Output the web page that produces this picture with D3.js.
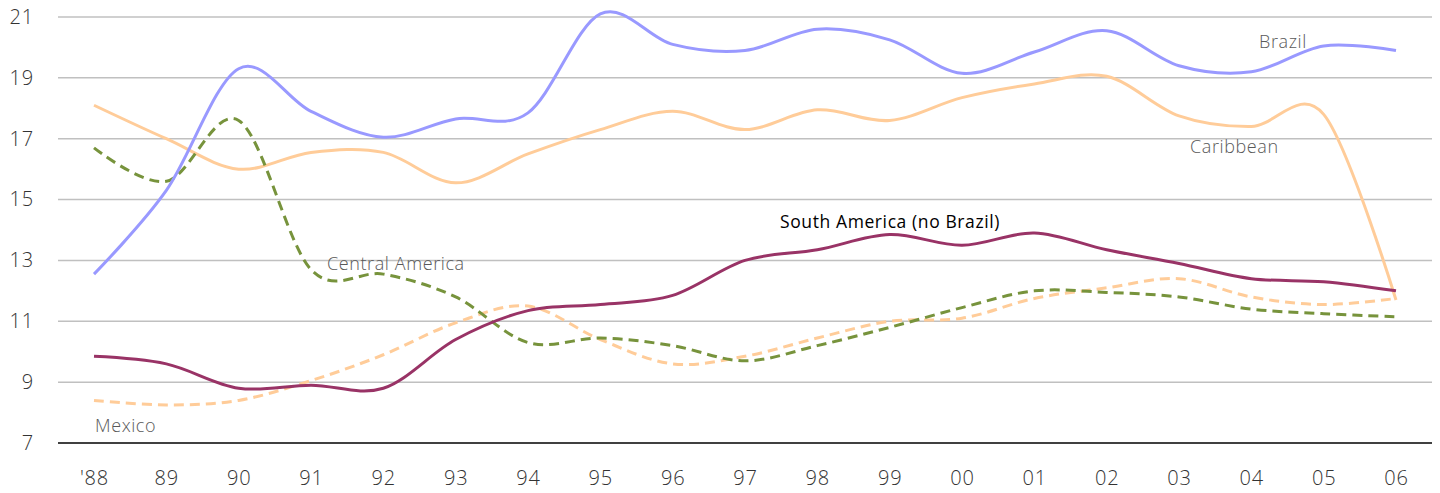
<!DOCTYPE html>
<html>
<head>
<meta charset="utf-8">
<script src="https://cdn.jsdelivr.net/npm/d3@7"></script>
<style>
  body { margin: 0; background: #fff; }
  svg text { font-family: "Open Sans", sans-serif; }
</style>
</head>
<body>
<svg id="chart" width="1440" height="493"></svg>
<script>
// categories (years)
var years = ["'88","89","90","91","92","93","94","95","96","97","98","99","00","01","02","03","04","05","06"];

// series values
var brazil = [12.55,15.3,19.3,17.9,17.05,17.65,17.85,21.1,20.1,19.9,20.6,20.25,19.15,19.85,20.55,19.4,19.2,20.05,19.9];
var caribbean = [18.1,17.0,16.0,16.55,16.55,15.55,16.5,17.3,17.9,17.3,17.95,17.6,18.35,18.8,19.05,17.75,17.4,17.8,11.7];
var centralAmerica = [16.7,15.6,17.6,12.7,12.55,11.8,10.3,10.45,10.2,9.7,10.2,10.8,11.45,12.0,11.95,11.8,11.4,11.25,11.15];
var mexico = [8.4,8.25,8.4,9.05,9.9,10.95,11.5,10.4,9.6,9.85,10.45,11.0,11.1,11.75,12.1,12.4,11.8,11.55,11.75];
var southAmerica = [9.85,9.6,8.8,8.9,8.8,10.4,11.35,11.55,11.85,13.0,13.35,13.85,13.5,13.9,13.35,12.9,12.4,12.3,12.0];

var yTicks = [7,9,11,13,15,17,19,21];

var svg = d3.select("#chart");

var x = d3.scalePoint().domain(years).range([94, 1396]);
var y = d3.scaleLinear().domain([7, 21]).range([443, 17]);

// gridlines
svg.append("g").selectAll("line")
  .data(yTicks.filter(function(d) { return d > 7; }))
  .enter().append("line")
  .attr("x1", 58).attr("x2", 1432)
  .attr("y1", function(d) { return y(d); })
  .attr("y2", function(d) { return y(d); })
  .attr("stroke", "#c0c0c0")
  .attr("stroke-width", 1.5);

// y axis labels
var yAxis = svg.append("g")
  .attr("transform", "translate(34,0)")
  .call(d3.axisLeft(y).tickValues(yTicks).tickSize(0).tickPadding(0).tickFormat(d3.format("d")));
yAxis.select(".domain").remove();
yAxis.selectAll("text")
  .attr("font-size", 20).attr("fill", "#333").attr("font-weight", 300)
  .attr("letter-spacing", 0.8)
  .attr("font-family", "'Open Sans', sans-serif");

// x axis
var xAxis = svg.append("g")
  .attr("transform", "translate(0,443)")
  .call(d3.axisBottom(x).tickSize(0).tickPadding(28));
xAxis.select(".domain").remove();
xAxis.selectAll("text")
  .attr("font-size", 20).attr("fill", "#333").attr("font-weight", 300)
  .attr("letter-spacing", 0.8)
  .attr("font-family", "'Open Sans', sans-serif");

// baseline at 7
svg.append("line")
  .attr("x1", 58).attr("x2", 1432)
  .attr("y1", y(7)).attr("y2", y(7))
  .attr("stroke", "#000").attr("stroke-width", 1.5);

var line = d3.line()
  .x(function(d, i) { return x(years[i]); })
  .y(function(d) { return y(d); })
  .curve(d3.curveCatmullRom.alpha(0));

var series = [
  { values: caribbean, color: "#ffcc99", dash: null },
  { values: mexico, color: "#ffcc99", dash: "10,6" },
  { values: centralAmerica, color: "#77933c", dash: "10,6" },
  { values: southAmerica, color: "#993366", dash: null },
  { values: brazil, color: "#9999ff", dash: null }
];

svg.append("g").selectAll("path")
  .data(series)
  .enter().append("path")
  .attr("d", function(d) { return line(d.values); })
  .attr("fill", "none")
  .attr("stroke", function(d) { return d.color; })
  .attr("stroke-width", 3)
  .attr("stroke-dasharray", function(d) { return d.dash; });

// series labels
var labels = [
  { text: "Brazil", x: 1259, y: 48, color: "#595959", weight: 300, size: 18 },
  { text: "Caribbean", x: 1190, y: 153, color: "#595959", weight: 300, size: 18 },
  { text: "Central America", x: 327, y: 270, color: "#595959", weight: 300, size: 18 },
  { text: "Mexico", x: 95, y: 432, color: "#595959", weight: 300, size: 18 },
  { text: "South America (no Brazil)", x: 780, y: 228, color: "#000", weight: 400, size: 17.5 }
];

svg.append("g").selectAll("text")
  .data(labels)
  .enter().append("text")
  .attr("x", function(d) { return d.x; })
  .attr("y", function(d) { return d.y; })
  .attr("font-size", function(d) { return d.size; })
  .attr("letter-spacing", 0.6)
  .attr("font-weight", function(d) { return d.weight; })
  .attr("fill", function(d) { return d.color; })
  .text(function(d) { return d.text; });
</script>
</body>
</html>
